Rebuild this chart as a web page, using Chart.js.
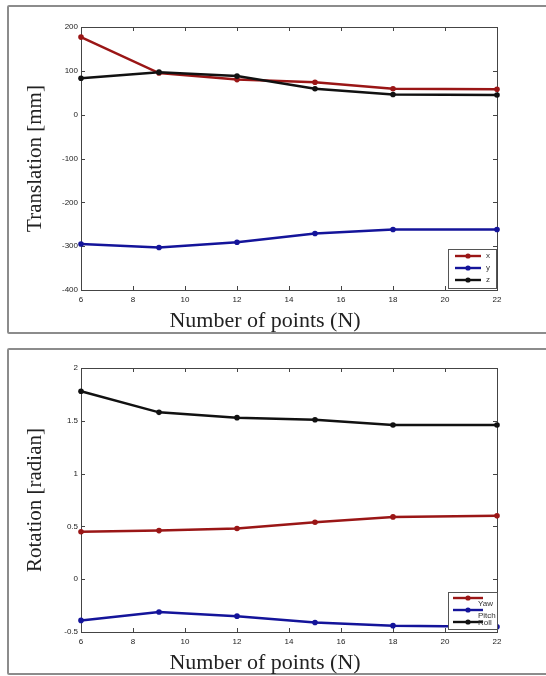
<!DOCTYPE html>
<html>
<head>
<meta charset="utf-8">
<title>Translation and rotation vs number of points</title>
<script src="https://cdn.jsdelivr.net/npm/chart.js@4"></script>
<style>
    html, body { margin: 0; padding: 0; background: #fff; }
    body { width: 546px; height: 676px; position: relative; overflow: hidden; }
    .panel { position: absolute; left: 7px; width: 560px; border: 2px solid #8c8c8c; border-radius: 2px; box-sizing: border-box; }
    #p1 { top: 5px; height: 329px; }
    #p2 { top: 348px; height: 327px; }
    canvas { position: absolute; left: 0; }
    #c1 { top: 0; }
    #c2 { top: 340px; }
    .xtitle { position: absolute; left: 0; width: 530px; text-align: center; font: 22px 'Liberation Serif', 'Times New Roman', serif; line-height: 26px; color: #222; }
    #t1 { top: 307px; }
    #t2 { top: 649px; }
</style>
</head>
<body>
<div class="panel" id="p1"></div>
<div class="panel" id="p2"></div>
<canvas id="c1" width="546" height="340"></canvas>
<canvas id="c2" width="546" height="336"></canvas>
<div class="xtitle" id="t1">Number of points (N)</div>
<div class="xtitle" id="t2">Number of points (N)</div>
<script>
/* ---------- data ---------- */
const nPoints = [6, 9, 12, 15, 18, 22];
const xTicks = [6, 8, 10, 12, 14, 16, 18, 20, 22];

const transX = [177, 95, 80, 74, 59, 58];
const transY = [-295, -303, -291, -271, -262, -262];
const transZ = [83, 97, 88, 59, 46, 45];
const transTicks = [-400, -300, -200, -100, 0, 100, 200];

const rotYaw = [0.45, 0.46, 0.48, 0.54, 0.59, 0.60];
const rotPitch = [-0.39, -0.31, -0.35, -0.41, -0.44, -0.45];
const rotRoll = [1.78, 1.58, 1.53, 1.51, 1.46, 1.46];
const rotTicks = [-0.5, 0, 0.5, 1, 1.5, 2];

const RED = "#9a1616", BLUE = "#14149a", BLACK = "#111111";
const SERIF = "'Liberation Serif', 'Times New Roman', serif";
const SANS = "'Liberation Sans', Arial, sans-serif";

/* ---------- matlab style box with inward ticks ---------- */
const framePlugin = {
    id: "frame",
    beforeDatasetsDraw(chart) {
        const { ctx, chartArea: a, scales: { x, y } } = chart;
        const len = 4;
        ctx.save();
        ctx.strokeStyle = "#444";
        ctx.lineWidth = 1;
        ctx.strokeRect(Math.round(a.left) + 0.5, Math.round(a.top) + 0.5,
            Math.round(a.right - a.left), Math.round(a.bottom - a.top));
        ctx.beginPath();
        x.ticks.forEach(t => {
            const px = Math.round(x.getPixelForValue(t.value)) + 0.5;
            ctx.moveTo(px, a.bottom); ctx.lineTo(px, a.bottom - len);
            ctx.moveTo(px, a.top); ctx.lineTo(px, a.top + len);
        });
        y.ticks.forEach(t => {
            const py = Math.round(y.getPixelForValue(t.value)) + 0.5;
            ctx.moveTo(a.left, py); ctx.lineTo(a.left + len, py);
            ctx.moveTo(a.right, py); ctx.lineTo(a.right - len, py);
        });
        ctx.stroke();
        ctx.restore();
    }
};

/* ---------- legend box inside the plot ---------- */
const boxLegend = {
    id: "boxLegend",
    afterDraw(chart, args, opts) {
        const { ctx } = chart;
        const [l, t, r, b] = opts.box;
        ctx.save();
        ctx.fillStyle = "#fff";
        ctx.fillRect(l, t, r - l, b - t);
        ctx.strokeStyle = "#555";
        ctx.lineWidth = 1;
        ctx.strokeRect(l + 0.5, t + 0.5, r - l, b - t);
        chart.data.datasets.forEach((ds, i) => {
            const yy = opts.rows[i];
            ctx.strokeStyle = ds.borderColor;
            ctx.fillStyle = ds.borderColor;
            ctx.lineWidth = 2.4;
            ctx.beginPath();
            ctx.moveTo(opts.line[0], yy);
            ctx.lineTo(opts.line[1], yy);
            ctx.stroke();
            ctx.beginPath();
            ctx.arc((opts.line[0] + opts.line[1]) / 2, yy, 2.6, 0, Math.PI * 2);
            ctx.fill();
            ctx.fillStyle = "#333";
            ctx.font = "8px " + SANS;
            ctx.textBaseline = "middle";
            ctx.fillText(ds.label, opts.labelX, yy + opts.labelDy[i]);
        });
        ctx.restore();
    }
};

function makeChart(id, series, yTicks, yTitle, geo) {
    return new Chart(document.getElementById(id), {
        type: "line",
        data: {
            datasets: series.map(s => ({
                label: s.label,
                data: nPoints.map((n, i) => ({ x: n, y: s.values[i] })),
                borderColor: s.color,
                backgroundColor: s.color,
                borderWidth: 2.5,
                pointRadius: 2.8,
                pointBorderWidth: 0,
                tension: 0,
                clip: false,
                order: s.order
            }))
        },
        options: {
            responsive: false,
            animation: false,
            events: [],
            layout: { padding: { top: geo.top, right: geo.right, left: 0, bottom: 0 } },
            plugins: {
                legend: { display: false },
                tooltip: { enabled: false },
                boxLegend: geo.legend
            },
            scales: {
                x: {
                    type: "linear",
                    min: 6, max: 22,
                    afterBuildTicks: s => { s.ticks = xTicks.map(v => ({ value: v })); },
                    afterFit: s => { s.height = geo.xHeight; },
                    grid: { display: false, drawTicks: false },
                    border: { display: false },
                    ticks: { padding: 5, color: "#222", font: { family: SANS, size: 8 }, maxRotation: 0, autoSkip: false, callback: v => String(v) },
                    title: { display: false }
                },
                y: {
                    min: yTicks[0], max: yTicks[yTicks.length - 1],
                    afterBuildTicks: s => { s.ticks = yTicks.map(v => ({ value: v })); },
                    afterFit: s => { s.width = 81; },
                    grid: { display: false, drawTicks: false },
                    border: { display: false },
                    ticks: { padding: 3, color: "#222", font: { family: SANS, size: 8 }, autoSkip: false, callback: v => String(v) },
                    title: { display: true, text: yTitle, color: "#222", font: { family: SERIF, size: 21 }, padding: { top: 23, bottom: 0 } }
                }
            }
        },
        plugins: [framePlugin, boxLegend]
    });
}

makeChart("c1", [
    { label: "x", values: transX, color: RED, order: 3 },
    { label: "y", values: transY, color: BLUE, order: 2 },
    { label: "z", values: transZ, color: BLACK, order: 1 }
], transTicks, "Translation [mm]", {
    top: 27, right: 49, xHeight: 50,
    legend: { box: [448, 249, 496, 288], rows: [256, 268, 280], line: [455, 481], labelX: 486, labelDy: [0, 0, 0] }
});

makeChart("c2", [
    { label: "Yaw", values: rotYaw, color: RED, order: 3 },
    { label: "Pitch", values: rotPitch, color: BLUE, order: 2 },
    { label: "Roll", values: rotRoll, color: BLACK, order: 1 }
], rotTicks, "Rotation [radian]", {
    top: 28, right: 49, xHeight: 44,
    legend: { box: [448, 252, 497, 289], rows: [258, 270, 282], line: [453, 483], labelX: 478, labelDy: [6, 6, 1] }
});
</script>
</body>
</html>
